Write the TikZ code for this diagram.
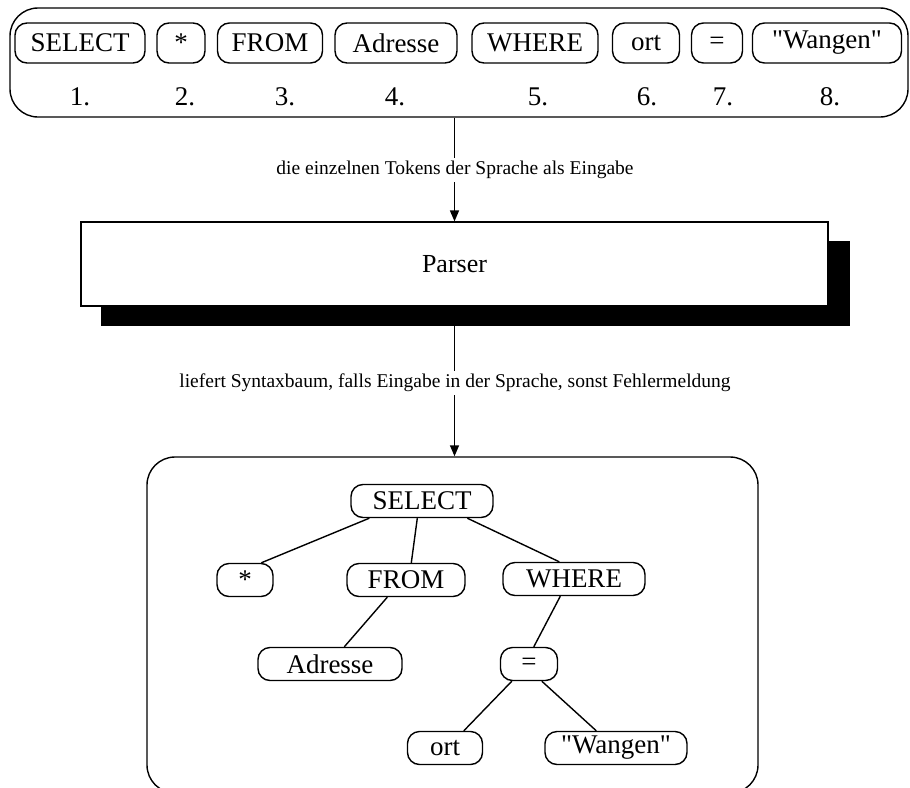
\documentclass[tikz,border=0pt]{standalone}
\usepackage{fontspec}
\setmainfont{Liberation Serif}[Ligatures=TeXOff]
\usetikzlibrary{calc,arrows.meta}

\tikzset{
  pill/.style={draw, line width=1.4pt, rounded corners=12pt, inner sep=0pt,
               font=\fontsize{27}{30}\selectfont},
  toppill/.style={pill, minimum height=40pt},
  treepill/.style={pill, minimum height=33pt},
  num/.style={font=\fontsize{27}{30}\selectfont, inner sep=0pt},
  frame/.style={draw, line width=1.4pt, rounded corners=28pt, inner sep=0pt},
  edge/.style={line width=1.4pt},
  flow/.style={line width=1.4pt, -{Triangle[length=11pt,width=9pt]}},
  flowlabel/.style={fill=white, inner sep=3pt, font=\fontsize{19.5}{22}\selectfont},
}

\begin{document}
\begin{tikzpicture}[x=1pt, y=-1pt]
\useasboundingbox (0,0) rectangle (910,787);

% token sequence
\node[frame, minimum width=898pt, minimum height=109pt] (topbox) at (459,62.5) {};
\node[toppill, minimum width=130pt] (kSelect) at (80,43) {SELECT};
\node[toppill, minimum width=48pt]  (kStar)   at (181,43) {*};
\node[toppill, minimum width=105pt] (kFrom)   at (270,43) {FROM};
\node[toppill, minimum width=122pt] (kAdr)    at (396,43) {Adresse};
\node[toppill, minimum width=126pt] (kWhere)  at (535,43) {WHERE};
\node[toppill, minimum width=67pt]  (kOrt)    at (646,43) {ort};
\node[toppill, minimum width=51pt]  (kEq)     at (717,43) {=};
\node[toppill, minimum width=149pt] (kWangen) at (827,43) {"Wangen"};

\node[num] (n1) at (80,97)  {1.};
\node[num] (n2) at (185,97) {2.};
\node[num] (n3) at (285,97) {3.};
\node[num] (n4) at (395,97) {4.};
\node[num] (n5) at (538,97) {5.};
\node[num] (n6) at (647,97) {6.};
\node[num] (n7) at (723,97) {7.};
\node[num] (n8) at (830,97) {8.};

% parser with its solid shadow
\fill[black] (101,241) rectangle (850,326);
\node[draw, line width=1.2pt, fill=white, minimum width=747pt, minimum height=84pt,
      inner sep=0pt, font=\fontsize{26}{30}\selectfont] (parser) at (454.5,264) {Parser};

% syntax tree frame
\node[frame, minimum width=611pt, minimum height=336pt] (treebox) at (452.5,625) {};

% flow arrows
\draw[flow] (parser.north |- topbox.south) -- (parser.north);
\node[flowlabel] (lab1) at (455,170) {die einzelnen Tokens der Sprache als Eingabe};
\draw[flow] (parser.south) -- (parser.south |- treebox.north);
\node[flowlabel] (lab2) at (455,383) {liefert Syntaxbaum, falls Eingabe in der Sprache, sonst Fehlermeldung};

% syntax tree
\node[treepill, minimum width=142pt] (tSelect) at (422,501) {SELECT};
\node[treepill, minimum width=56pt]  (tStar)   at (245,580) {*};
\node[treepill, minimum width=118pt] (tFrom)   at (406,580) {FROM};
\node[treepill, minimum width=142pt] (tWhere)  at (574,579) {WHERE};
\node[treepill, minimum width=144pt] (tAdr)    at (330,664) {Adresse};
\node[treepill, minimum width=57pt]  (tEq)     at (529,664) {=};
\node[treepill, minimum width=75pt]  (tOrt)    at (445,748) {ort};
\node[treepill, minimum width=142pt] (tWangen) at (616,748) {"Wangen"};

\draw[edge] ($(tSelect.south west)+(19,0)$) -- ($(tStar.north west)+(45,0)$);
\draw[edge] ($(tSelect.south west)+(67,0)$) -- ($(tFrom.north west)+(65,0)$);
\draw[edge] ($(tSelect.south west)+(117,0)$) -- ($(tWhere.north west)+(57,0)$);
\draw[edge] ($(tFrom.south west)+(41,0)$) -- ($(tAdr.north west)+(87,0)$);
\draw[edge] ($(tWhere.south west)+(58,0)$) -- ($(tEq.north west)+(34,0)$);
\draw[edge] ($(tEq.south west)+(12,0)$) -- ($(tOrt.north west)+(57,0)$);
\draw[edge] ($(tEq.south west)+(42,0)$) -- ($(tWangen.north west)+(52,0)$);
\end{tikzpicture}
\end{document}
